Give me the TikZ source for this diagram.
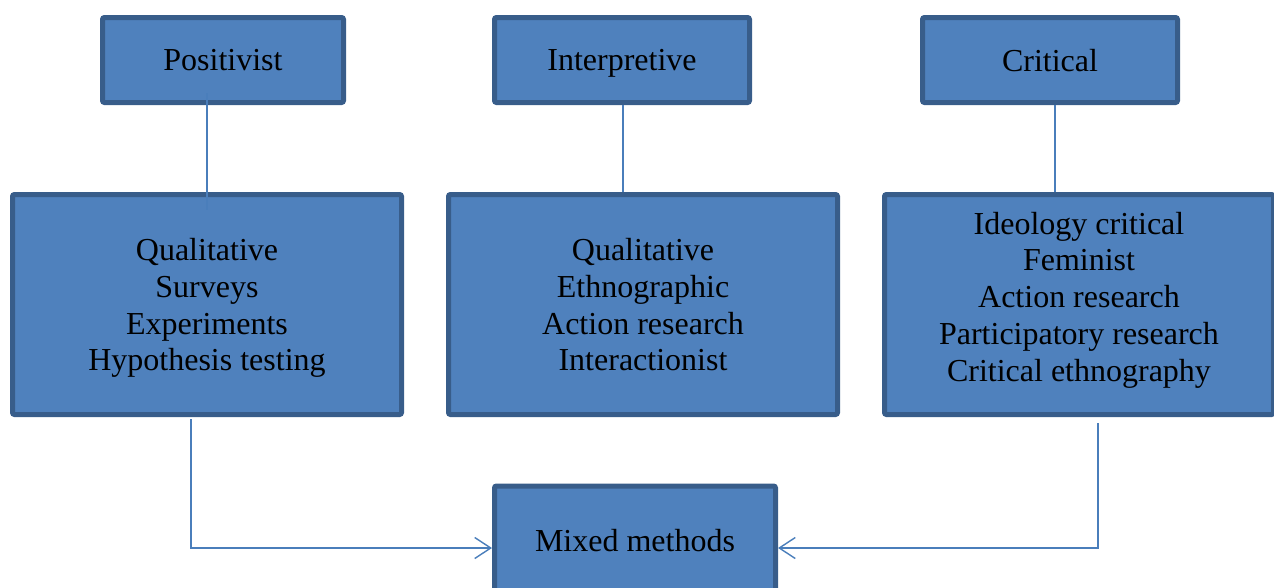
\documentclass[tikz,border=0pt]{standalone}
\usepackage{fontspec}
\setmainfont{Liberation Serif}
\usetikzlibrary{arrows.meta}
\definecolor{boxfill}{HTML}{4F81BD}
\definecolor{boxline}{HTML}{385D8A}
\definecolor{linkline}{HTML}{4A7EBB}

\begin{document}
\begin{tikzpicture}[x=1pt,y=-1pt,
  paradigm/.style={draw=boxline,fill=boxfill,line width=5pt,rounded corners=2pt,
    inner sep=0pt,align=center,text depth=0pt,font=\fontsize{32}{36.8}\selectfont},
  link/.style={draw=linkline,line width=1.4pt},
  feed/.style={link,-{Straight Barb[length=16pt,width=21pt,line width=1.4pt]}}]

\useasboundingbox (0,0) rectangle (1274,587);

%% paradigms
\node[paradigm,minimum width=241pt,minimum height=85pt] (pos) at (223,60) {Positivist};
\node[paradigm,minimum width=255pt,minimum height=85pt] (int) at (622,60) {Interpretive};
\node[paradigm,minimum width=255pt,minimum height=85pt] (crit) at (1050,60) {Critical};

%% methods
\node[paradigm,minimum width=389pt,minimum height=220pt] (posm) at (207,304.5)
  {Qualitative\\Surveys\\Experiments\\Hypothesis testing};
\node[paradigm,minimum width=389pt,minimum height=220pt] (intm) at (643,304.5)
  {Qualitative\\Ethnographic\\Action research\\Interactionist};
\node[paradigm,minimum width=389pt,minimum height=220pt,text depth=16pt] (critm) at (1079,304.5)
  {Ideology critical\\Feminist\\Action research\\Participatory research\\Critical ethnography};
\node[paradigm,minimum width=281pt,minimum height=108pt] (mix) at (635,540) {Mixed methods};

%%% links
\draw[link,shorten <=-12pt,shorten >=-18pt] (posm.north |- pos.south) -- (posm.north);
\draw[link] ([xshift=1pt]int.south) -- ([xshift=1pt]int.south |- intm.north);
\draw[link] ([xshift=5pt]crit.south) -- ([xshift=5pt]crit.south |- critm.north);

\draw[feed] ([xshift=-16pt,yshift=-2pt]posm.south) |- ([yshift=-8pt]mix.west);
\draw[feed] ([xshift=19pt,yshift=-6pt]critm.south) |- ([yshift=-8pt]mix.east);

\end{tikzpicture}
\end{document}
